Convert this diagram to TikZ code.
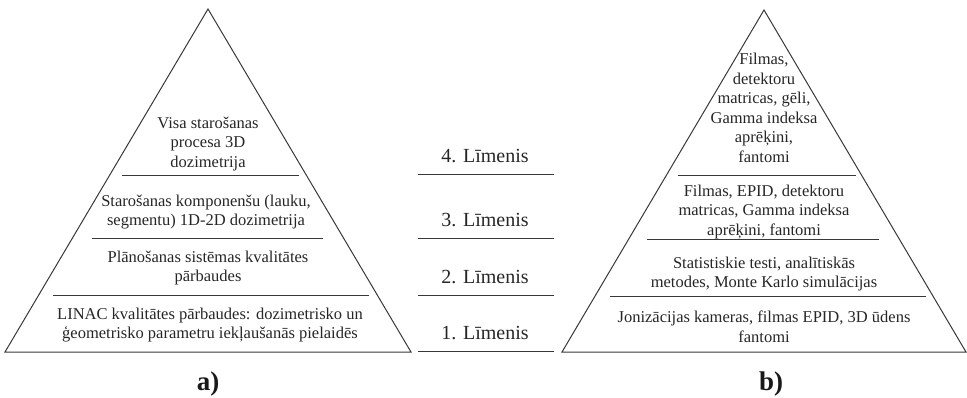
\documentclass[tikz,border=0pt]{standalone}
\usepackage{fontspec}
\setmainfont{Liberation Serif}
\begin{document}
\begin{tikzpicture}[x=1pt,y=-1pt,
  ln/.style={draw=black!78,line width=1pt},
  txt/.style={text=black!85,align=center,inner sep=0pt,font=\fontsize{16.5}{19.5}\selectfont},
  lvl/.style={text=black!85,inner sep=0pt,font=\fontsize{20}{24}\selectfont},
  capt/.style={text=black!90,inner sep=0pt,anchor=base,font=\fontsize{27}{30}\selectfont\bfseries}]
\useasboundingbox (0,0) rectangle (967,397);
% left pyramid
\coordinate (LA) at (208,9);
\coordinate (LL) at (5,352);
\coordinate (LR) at (411,352);
\draw[ln] (LA) -- (LL) -- (LR) -- cycle;
\draw[ln] (122,175) -- (299,175);
\draw[ln] (92,238) -- (323,238);
\draw[ln] (53,295) -- (369,295);
\node[txt] (l4) at (208,144) {Visa starošanas\\procesa 3D\\dozimetrija};
\node[txt] (l3) at (206,212) {Starošanas komponenšu (lauku,\\segmentu) 1D-2D dozimetrija};
\node[txt] (l2) at (208,268) {Plānošanas sistēmas kvalitātes\\pārbaudes};
\node[txt] (l1) at (210,325) {LINAC kvalitātes pārbaudes: dozimetrisko un\\ģeometrisko parametru iekļaušanās pielaidēs};
\node[capt] (ca) at (208,390) {a)};
% middle levels
\draw[ln] (418,174) -- (554,174);
\draw[ln] (418,238) -- (554,238);
\draw[ln] (418,295) -- (554,295);
\draw[ln] (418,351) -- (554,351);
\node[lvl] (m4) at (485,156) {4. Līmenis};
\node[lvl] (m3) at (485,220) {3. Līmenis};
\node[lvl] (m2) at (485,277) {2. Līmenis};
\node[lvl] (m1) at (485,333) {1. Līmenis};
% right pyramid
\coordinate (RA) at (764,10);
\coordinate (RL) at (562,352);
\coordinate (RR) at (966,352);
\draw[ln] (RA) -- (RL) -- (RR) -- cycle;
\draw[ln] (678,175) -- (856,175);
\draw[ln] (647,239) -- (879,239);
\draw[ln] (610,296) -- (926,296);
\node[txt] (r4) at (764,108) {Filmas,\\detektoru\\matricas, gēli,\\Gamma indeksa\\aprēķini,\\fantomi};
\node[txt] (r3) at (764,212) {Filmas, EPID, detektoru\\matricas, Gamma indeksa\\aprēķini, fantomi};
\node[txt] (r2) at (764,274) {Statistiskie testi, analītiskās\\metodes, Monte Karlo simulācijas};
\node[txt] (r1) at (764,327) {Jonizācijas kameras, filmas EPID, 3D ūdens\\fantomi};
\node[capt] (cb) at (771,390) {b)};
\end{tikzpicture}
\end{document}
